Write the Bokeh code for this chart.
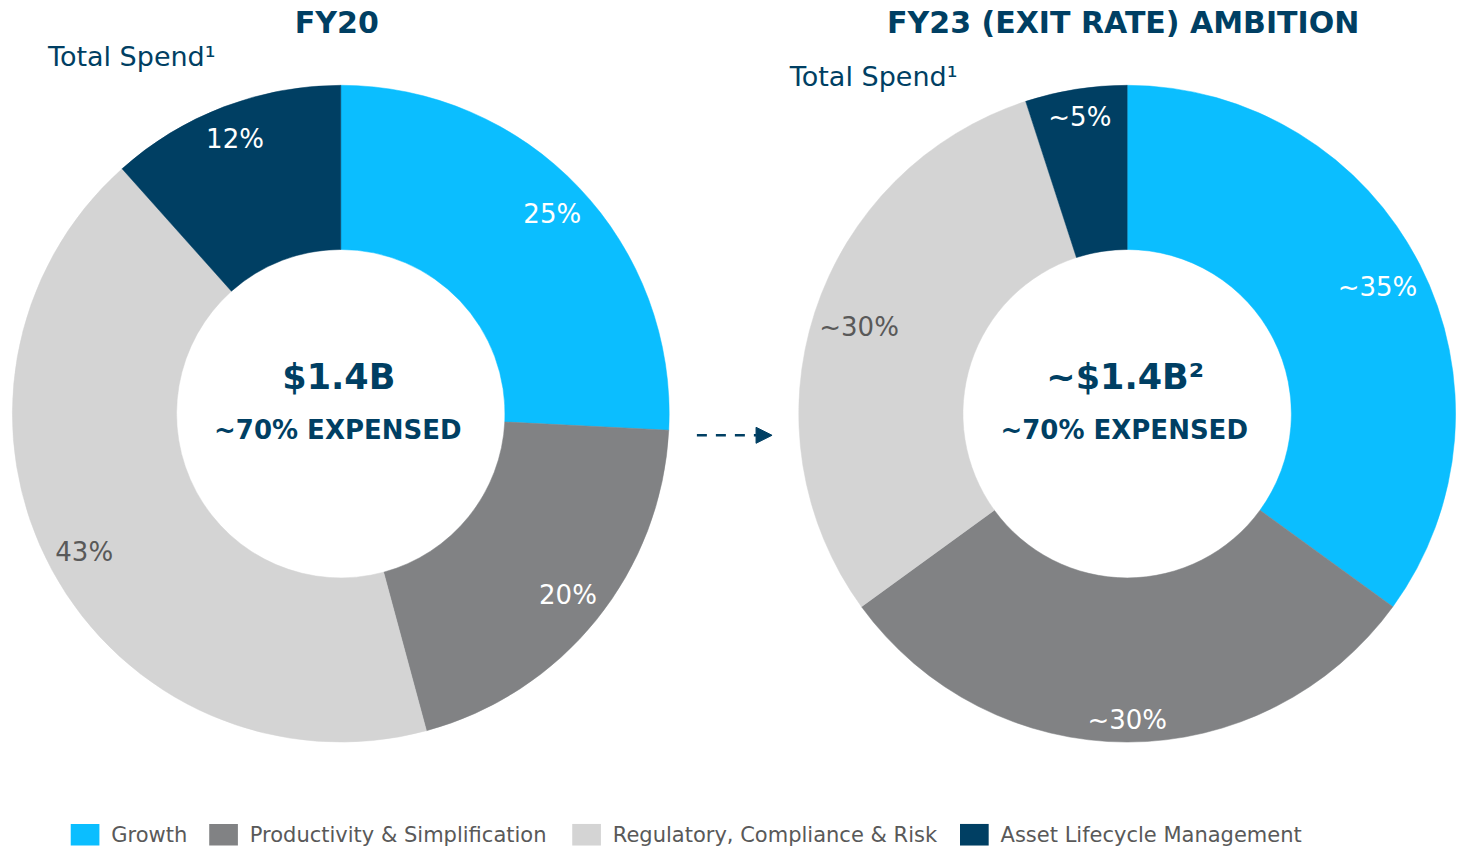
import numpy as np
from bokeh.plotting import figure
from bokeh.models import Range1d, ColumnDataSource, Arrow, NormalHead
from bokeh.core.properties import value
from bokeh.embed import file_html
from bokeh.resources import INLINE

# ---- data ----
categories = ["Growth", "Productivity & Simplification",
              "Regulatory, Compliance & Risk", "Asset Lifecycle Management"]
colors = ["#0BBEFF", "#818284", "#D4D4D4", "#003F63"]
fy20_values = [25.8, 20.0, 42.6, 11.6]
fy20_labels = ["25%", "20%", "43%", "12%"]
fy23_values = [35.0, 30.0, 30.0, 5.0]
fy23_labels = ["~35%", "~30%", "~30%", "~5%"]
label_colors = ["white", "white", "#595959", "white"]

NAVY = "#003F63"
FONT = "DejaVu Sans"

W, H = 1462, 847
REF_W, REF_H = 1478, 863
p = figure(width=W, height=H, output_backend="svg", toolbar_location=None,
           x_range=Range1d(0, REF_W), y_range=Range1d(0, REF_H),
           min_border=0, outline_line_color=None)
p.axis.visible = False
p.grid.visible = False
p.background_fill_color = "white"


def sy(y):
    return REF_H - y


def donut(cx, cy, vals, labels, label_r, title, center_main, center_sub):
    vals = np.array(vals, dtype=float)
    frac = vals / vals.sum()
    cum = np.concatenate([[0], np.cumsum(frac)])
    start = np.pi / 2 - 2 * np.pi * cum[:-1]
    end = np.pi / 2 - 2 * np.pi * cum[1:]
    src = ColumnDataSource(dict(start=start, end=end, color=colors))
    p.annular_wedge(x=cx, y=cy, inner_radius=166, outer_radius=332,
                    start_angle="start", end_angle="end", direction="clock",
                    fill_color="color", line_color="color", line_width=0.5,
                    source=src)
    mid = (start + end) / 2
    lr = np.array(label_r)
    lx = cx + lr * np.cos(mid)
    ly = cy + lr * np.sin(mid)
    p.text(x=lx, y=ly, text=labels, text_color=label_colors,
           text_font=value(FONT), text_font_size="26px",
           text_align="center", text_baseline="middle")
    p.text(x=[cx - 2], y=[cy + 37], text=[center_main], text_color=NAVY,
           text_font=value(FONT), text_font_style="bold", text_font_size="35px",
           text_align="center", text_baseline="middle")
    p.text(x=[cx - 3], y=[cy - 17], text=[center_sub], text_color=NAVY,
           text_font=value(FONT), text_font_style="bold", text_font_size="26px",
           text_align="center", text_baseline="middle")
    p.text(x=[cx - 4], y=[sy(22)], text=[title], text_color=NAVY,
           text_font=value(FONT), text_font_style="bold", text_font_size="30px",
           text_align="center", text_baseline="middle")


donut(344, sy(421), fy20_values, fy20_labels, [295, 295, 295, 300],
      "FY20", "$1.4B", "~70% EXPENSED")
donut(1139, sy(421), fy23_values, fy23_labels, [284, 312, 285, 306],
      "FY23 (EXIT RATE) AMBITION", "~$1.4B\u00b2", "~70% EXPENSED")

# Total Spend labels
p.text(x=[48, 798], y=[sy(57), sy(77)], text=["Total Spend\u00b9", "Total Spend\u00b9"],
       text_color=NAVY, text_font=value(FONT), text_font_size="27px",
       text_align="left", text_baseline="middle")

# arrow between donuts
p.add_layout(Arrow(x_start=704, y_start=sy(443), x_end=780, y_end=sy(443),
                   line_color=NAVY, line_width=2.5, line_dash="10 9",
                   end=NormalHead(size=16, fill_color=NAVY, line_color=NAVY)))

# legend
leg_x = [71, 211, 578, 970]
leg_y = sy(850)
p.rect(x=[x + 14.5 for x in leg_x], y=[leg_y] * 4, width=29, height=22,
       fill_color=colors, line_color=None)
p.text(x=[x + 41 for x in leg_x], y=[leg_y] * 4, text=categories,
       text_color="#595959", text_font=value(FONT), text_font_size="21px",
       text_align="left", text_baseline="middle")

open("out.html", "w").write(file_html(p, INLINE))
